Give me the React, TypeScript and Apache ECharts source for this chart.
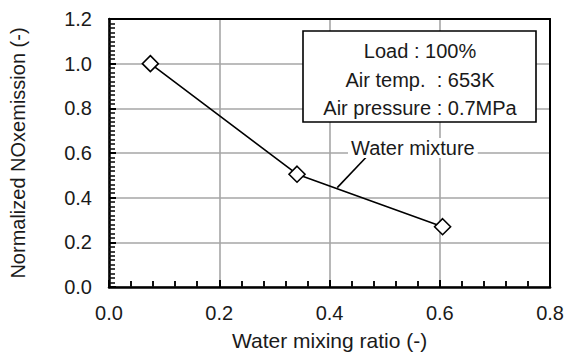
import React, { useEffect, useRef } from "react";
import * as echarts from "echarts";

const mixingRatio = [0.075, 0.341, 0.605];
const noxEmission = [1.0, 0.505, 0.27];
const conditionLines = ["Load : 100%", "Air temp.  : 653K", "Air pressure : 0.7MPa"];
const seriesLabel = "Water mixture";
const leaderFrom = [0.4676, 0.5846];
const leaderTo = [0.414, 0.445];

const FONT = "'Liberation Sans', Arial, Helvetica, sans-serif";

const frameAxis = (min: number, max: number, position: string) => ({
  type: "value",
  min,
  max,
  position,
  axisLine: { show: true, onZero: false, lineStyle: { color: "#000", width: 2 } },
  axisTick: { show: false },
  axisLabel: { show: false },
  splitLine: { show: false },
});

export default function App() {
  const ref = useRef<HTMLDivElement>(null);
  useEffect(() => {
    if (!ref.current) return;
    const chart = echarts.init(ref.current, undefined, { renderer: "svg" });
    const boxCx = 420;
    const lineYs = [51, 80, 108];
    chart.setOption({
      animation: false,
      backgroundColor: "#ffffff",
      grid: { left: 102, right: 15, top: 19, bottom: 66 },
      xAxis: [
        {
          type: "value",
          min: 0,
          max: 0.8,
          interval: 0.2,
          position: "bottom",
          name: "Water mixing ratio (-)",
          nameLocation: "middle",
          nameGap: 43,
          nameTextStyle: { fontFamily: FONT, fontSize: 21, color: "#1a1a1a" },
          axisLine: { show: true, onZero: false, lineStyle: { color: "#000", width: 2.5 } },
          axisTick: { show: true, inside: true, length: 7, lineStyle: { color: "#000", width: 2 } },
          minorTick: { show: true, splitNumber: 5, length: 6, lineStyle: { color: "#111", width: 2 } },
          axisLabel: {
            fontFamily: FONT,
            fontSize: 20,
            color: "#1a1a1a",
            margin: 16,
            formatter: (v: number) => v.toFixed(1),
          },
          splitLine: { show: true, lineStyle: { color: "#a6a6a6", width: 1.6 } },
        },
        frameAxis(0, 0.8, "top"),
      ],
      yAxis: [
        {
          type: "value",
          min: 0,
          max: 1.2,
          interval: 0.2,
          position: "left",
          name: "Normalized NOxemission (-)",
          nameLocation: "middle",
          nameGap: 81,
          nameTextStyle: { fontFamily: FONT, fontSize: 20, color: "#1a1a1a" },
          axisLine: { show: true, onZero: false, lineStyle: { color: "#000", width: 2.5 } },
          axisTick: { show: true, inside: true, length: 7, lineStyle: { color: "#000", width: 2 } },
          minorTick: { show: true, splitNumber: 10, length: 6, lineStyle: { color: "#111", width: 1.6 } },
          axisLabel: {
            fontFamily: FONT,
            fontSize: 20,
            color: "#1a1a1a",
            margin: 17,
            formatter: (v: number) => v.toFixed(1),
          },
          splitLine: { show: true, lineStyle: { color: "#a6a6a6", width: 1.6 } },
        },
        frameAxis(0, 1.2, "right"),
      ],
      series: [
        {
          type: "line",
          name: seriesLabel,
          xAxisIndex: 0,
          yAxisIndex: 0,
          data: mixingRatio.map((x, i) => [x, noxEmission[i]]),
          symbol: "diamond",
          symbolSize: 16,
          showAllSymbol: true,
          z: 5,
          lineStyle: { color: "#000", width: 1.6 },
          itemStyle: { color: "#fff", borderColor: "#000", borderWidth: 1.6 },
          markLine: {
            silent: true,
            symbol: ["none", "none"],
            label: { show: false },
            lineStyle: { color: "#000", width: 1.6, type: "solid" },
            data: [[{ coord: leaderFrom }, { coord: leaderTo }]],
          },
        },
      ],
      graphic: [
        {
          type: "rect",
          z: 20,
          shape: { x: 303, y: 31, width: 233, height: 91 },
          style: { fill: "#fff", stroke: "#000", lineWidth: 1.6 },
        },
        ...conditionLines.map((t, i) => ({
          type: "text",
          z: 21,
          x: boxCx,
          y: lineYs[i],
          style: {
            text: t,
            fontFamily: FONT,
            fontSize: 20,
            fill: "#1a1a1a",
            align: "center",
            verticalAlign: "middle",
          },
        })),
        {
          type: "text",
          z: 21,
          x: 348,
          y: 148,
          style: {
            text: seriesLabel,
            fontFamily: FONT,
            fontSize: 20,
            fill: "#1a1a1a",
            align: "left",
            verticalAlign: "middle",
            backgroundColor: "#fff",
            padding: [0, 3, 0, 3],
          },
        },
      ],
    });
    return () => chart.dispose();
  }, []);
  return <div ref={ref} style={{ width: 567, height: 356, position: "absolute", left: 0, top: 0 }} />;
}
